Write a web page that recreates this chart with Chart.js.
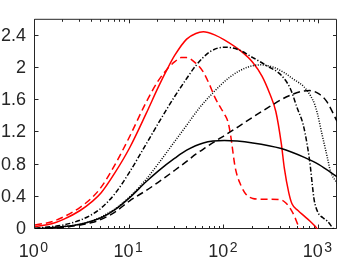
<!DOCTYPE html>
<html lang="en">
<head>
  <meta charset="UTF-8">
  <title>Log curves</title>
  <script src="https://cdn.jsdelivr.net/npm/chart.js@4.4.0/dist/chart.umd.min.js"></script>
  <style>
    body { margin: 0; background: #fff; }
  </style>
</head>
<body>
  <canvas id="chart" width="338" height="259"></canvas>
  <script>
    // values (x is on a log axis)
    const redSolidX = [1, 1.5, 2, 3, 4, 5, 7, 10, 15, 20, 25, 30, 40, 50, 60, 80, 100, 150, 200, 250, 300, 350, 400, 430, 480, 520, 600, 700, 800, 900, 960];
    const redSolidY = [0.03, 0.065, 0.12, 0.23, 0.34, 0.45, 0.7, 1.01, 1.44, 1.76, 1.99, 2.16, 2.36, 2.43, 2.45, 2.41, 2.35, 2.21, 2.07, 1.9, 1.69, 1.46, 1.06, 0.76, 0.45, 0.31, 0.23, 0.16, 0.1, 0.04, 0];

    const redDashX = [1, 1.5, 2, 3, 4, 5, 7, 10, 15, 20, 25, 30, 35, 40, 50, 60, 70, 80, 90, 100, 110, 116, 120, 130, 150, 170, 200, 250, 300, 400, 450, 500, 550, 600, 630];
    const redDashY = [0.05, 0.09, 0.15, 0.27, 0.39, 0.52, 0.8, 1.15, 1.58, 1.84, 1.99, 2.08, 2.13, 2.13, 2.06, 1.95, 1.79, 1.63, 1.52, 1.43, 1.32, 1.18, 1.06, 0.77, 0.54, 0.43, 0.38, 0.37, 0.37, 0.36, 0.32, 0.25, 0.16, 0.05, 0];

    const dashDotX = [1, 1.5, 2, 3, 4, 5, 7, 10, 15, 20, 25, 30, 40, 50, 70, 100, 140, 200, 280, 400, 500, 590, 680, 750, 810, 850, 890, 980, 1100, 1220, 1380, 1420];
    const dashDotY = [0.01, 0.03, 0.05, 0.11, 0.18, 0.26, 0.44, 0.71, 1.06, 1.31, 1.5, 1.65, 1.87, 2.03, 2.2, 2.26, 2.23, 2.13, 2.03, 1.91, 1.74, 1.5, 1.3, 1.05, 0.78, 0.55, 0.36, 0.2, 0.14, 0.1, 0.02, 0];

    const dottedX = [1, 2, 3, 4, 5, 7, 10, 15, 20, 30, 40, 55, 77, 115, 175, 240, 330, 420, 540, 690, 810, 900, 960, 1080, 1220, 1320, 1550];
    const dottedY = [0.005, 0.03, 0.06, 0.1, 0.15, 0.25, 0.4, 0.62, 0.81, 1.09, 1.29, 1.51, 1.7, 1.89, 2.01, 2.04, 2.01, 1.95, 1.86, 1.77, 1.66, 1.55, 1.44, 1.17, 0.9, 0.72, 0.57];

    const dashedX = [1, 2, 3, 4, 5, 7, 10, 15, 20, 30, 40, 50, 65, 80, 100, 140, 200, 300, 450, 650, 800, 1000, 1200, 1550];
    const dashedY = [0, 0.02, 0.05, 0.08, 0.12, 0.21, 0.35, 0.48, 0.58, 0.73, 0.84, 0.93, 1.02, 1.09, 1.16, 1.27, 1.39, 1.52, 1.64, 1.71, 1.72, 1.68, 1.59, 1.34];

    const solidX = [1, 2, 3, 4, 5, 7, 10, 15, 20, 30, 40, 60, 100, 200, 400, 700, 1000, 1550];
    const solidY = [0, 0.03, 0.06, 0.1, 0.14, 0.24, 0.39, 0.59, 0.72, 0.88, 0.98, 1.07, 1.1, 1.07, 1.0, 0.89, 0.8, 0.65];

    const xTickExps = [0, 1, 2, 3];
    const yTicks = [0, 0.4, 0.8, 1.2, 1.6, 2, 2.4];

    const ink = '#262626';

    function pts(xs, ys) {
      return xs.map((x, i) => ({ x: x, y: ys[i] }));
    }

    function line(xs, ys, color, dash) {
      return {
        data: pts(xs, ys),
        borderColor: color,
        borderWidth: 1.5,
        borderDash: dash,
        pointRadius: 0,
        fill: false,
        cubicInterpolationMode: 'monotone'
      };
    }

    // box with inward ticks, like the original axes
    const frame = {
      id: 'frame',
      beforeDatasetsDraw(chart) {
        const { ctx, chartArea: a, scales: { x, y } } = chart;
        ctx.save();
        ctx.strokeStyle = ink;
        ctx.lineWidth = 1;
        ctx.beginPath();
        ctx.rect(a.left - 0.5, a.top - 0.5, a.right - a.left, a.bottom - a.top);
        // y ticks left and right
        yTicks.forEach(v => {
          const py = Math.round(y.getPixelForValue(v)) - 0.5;
          ctx.moveTo(a.left, py); ctx.lineTo(a.left + 3.5, py);
          ctx.moveTo(a.right - 0.5, py); ctx.lineTo(a.right - 4, py);
        });
        // x ticks, decades and minor
        for (let e = 0; e <= 3; e++) {
          for (let m = 1; m <= 9; m++) {
            const v = m * Math.pow(10, e);
            if (v > x.max) break;
            const px = Math.round(x.getPixelForValue(v)) - 0.5;
            const len = m === 1 ? 4 : 2.5;
            ctx.moveTo(px, a.bottom - 0.5); ctx.lineTo(px, a.bottom - 0.5 - len);
            ctx.moveTo(px, a.top - 0.5); ctx.lineTo(px, a.top - 0.5 + len);
          }
        }
        ctx.stroke();
        ctx.restore();
      },
      afterDraw(chart) {
        const { ctx, scales: { x } } = chart;
        ctx.save();
        ctx.fillStyle = ink;
        ctx.textBaseline = 'alphabetic';
        xTickExps.forEach(e => {
          const px = x.getPixelForValue(Math.pow(10, e));
          ctx.font = '18px "Liberation Sans", Arial, sans-serif';
          const wBase = ctx.measureText('10').width;
          ctx.font = '14px "Liberation Sans", Arial, sans-serif';
          const wExp = ctx.measureText(String(e)).width;
          const left = px - (wBase + 1.5 + wExp) / 2 - 1.5;
          ctx.font = '18px "Liberation Sans", Arial, sans-serif';
          ctx.fillText('10', left, 257);
          ctx.font = '14px "Liberation Sans", Arial, sans-serif';
          ctx.fillText(String(e), left + wBase + 1.5, 251.5);
        });
        ctx.restore();
      }
    };

    const ctx = document.getElementById('chart').getContext('2d');
    const myChart = new Chart(ctx, {
      type: 'line',
      data: {
        datasets: [
          line(solidX, solidY, '#000000', []),
          line(dashedX, dashedY, '#000000', [7, 4]),
          line(dottedX, dottedY, '#000000', [1, 1.5]),
          line(dashDotX, dashDotY, '#000000', [5, 2, 1.2, 2]),
          line(redDashX, redDashY, '#ff0000', [7, 4]),
          line(redSolidX, redSolidY, '#ff0000', [])
        ]
      },
      options: {
        responsive: false,
        animation: false,
        layout: { padding: { top: 1, right: 1, left: 0, bottom: 0 } },
        plugins: { legend: { display: false }, tooltip: { enabled: false } },
        scales: {
          x: {
            type: 'logarithmic',
            min: 1,
            max: 1550,
            grid: { display: false, drawTicks: false },
            border: { display: false },
            ticks: { display: false },
            afterFit: s => { s.height = 30; }
          },
          y: {
            min: 0,
            max: 2.6,
            grid: { display: false, drawTicks: false },
            border: { display: false },
            afterBuildTicks: s => { s.ticks = yTicks.map(v => ({ value: v })); },
            afterFit: s => { s.width = 35; },
            ticks: {
              padding: 9,
              color: ink,
              font: { family: '"Liberation Sans", Arial, sans-serif', size: 18 },
              callback: v => String(Math.round(v * 10) / 10)
            }
          }
        }
      },
      plugins: [frame]
    });
  </script>
</body>
</html>
